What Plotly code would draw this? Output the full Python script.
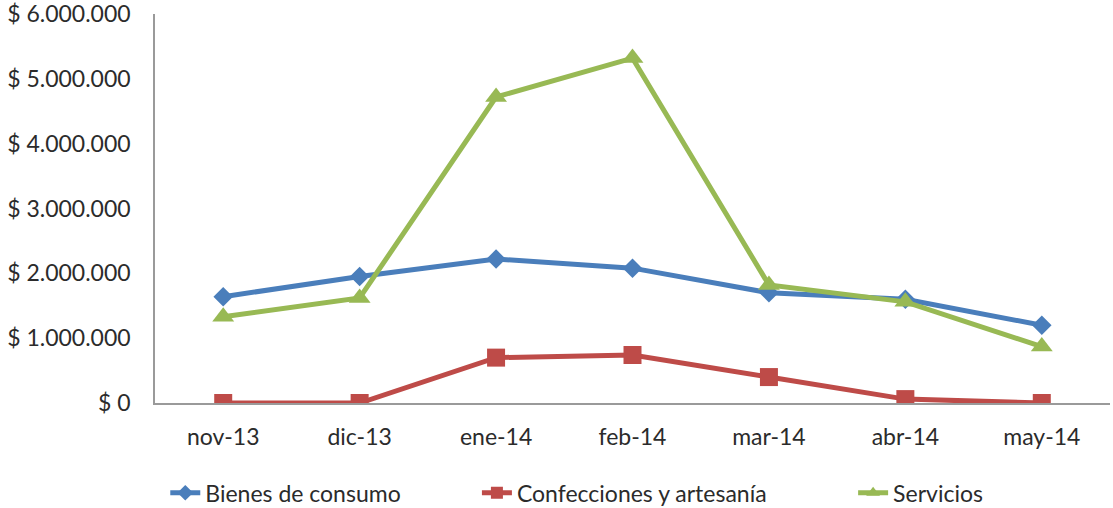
import plotly.graph_objects as go

months = ["nov-13", "dic-13", "ene-14", "feb-14", "mar-14", "abr-14", "may-14"]
bienes = [1640000, 1950000, 2220000, 2080000, 1700000, 1600000, 1200000]
confecciones = [0, 0, 700000, 740000, 400000, 60000, 0]
servicios = [1330000, 1620000, 4720000, 5320000, 1820000, 1560000, 870000]

y_ticks = [0, 1000000, 2000000, 3000000, 4000000, 5000000, 6000000]
y_labels = ["$ 0", "$ 1.000.000", "$ 2.000.000", "$ 3.000.000",
            "$ 4.000.000", "$ 5.000.000", "$ 6.000.000"]

FONT = "Lato, Open Sans, sans-serif"
TEXT = "#2b2b2b"

fig = go.Figure()
fig.add_trace(go.Scatter(
    x=months, y=bienes, name="Bienes de consumo", mode="lines+markers",
    line=dict(color="#4a7ebb", width=5),
    marker=dict(symbol="diamond", size=15, color="#4a7ebb"),
    legend="legend"))
fig.add_trace(go.Scatter(
    x=months, y=confecciones, name="Confecciones y artesanía", mode="lines+markers",
    line=dict(color="#be4b48", width=5),
    marker=dict(symbol="square", size=18, color="#be4b48"),
    legend="legend2"))
fig.add_trace(go.Scatter(
    x=months, y=servicios, name="Servicios", mode="lines+markers",
    line=dict(color="#98b954", width=5),
    marker=dict(symbol="triangle-up", size=19, color="#98b954"),
    legend="legend3"))

legend_common = dict(orientation="h", xref="container", yref="container",
                     y=0.03, yanchor="middle", xanchor="left",
                     font=dict(family=FONT, size=23, color=TEXT),
                     bgcolor="rgba(0,0,0,0)", itemsizing="constant")

fig.update_layout(
    width=1113, height=508,
    margin=dict(l=155, r=3, t=14, b=105, autoexpand=False),
    paper_bgcolor="white", plot_bgcolor="white",
    font=dict(family=FONT, size=23, color=TEXT),
    showlegend=True,
    legend=dict(x=0.1485, **legend_common),
    legend2=dict(x=0.4285, **legend_common),
    legend3=dict(x=0.7665, **legend_common),
    xaxis=dict(type="category", range=[-0.5, 6.5], showgrid=False,
               showline=True, linecolor="#9a9a9a", linewidth=1.5,
               ticks="", tickfont=dict(size=23), zeroline=False,
               automargin=False, ticklabelstandoff=13),
    yaxis=dict(range=[0, 6000000], tickvals=y_ticks, ticktext=y_labels,
               showgrid=False, showline=True, linecolor="#9a9a9a", linewidth=1.5,
               ticks="", tickfont=dict(size=23), zeroline=False,
               automargin=False, ticklabelstandoff=18,
               ticklabeloverflow="allow"),
)

fig.write_html("out.html")
